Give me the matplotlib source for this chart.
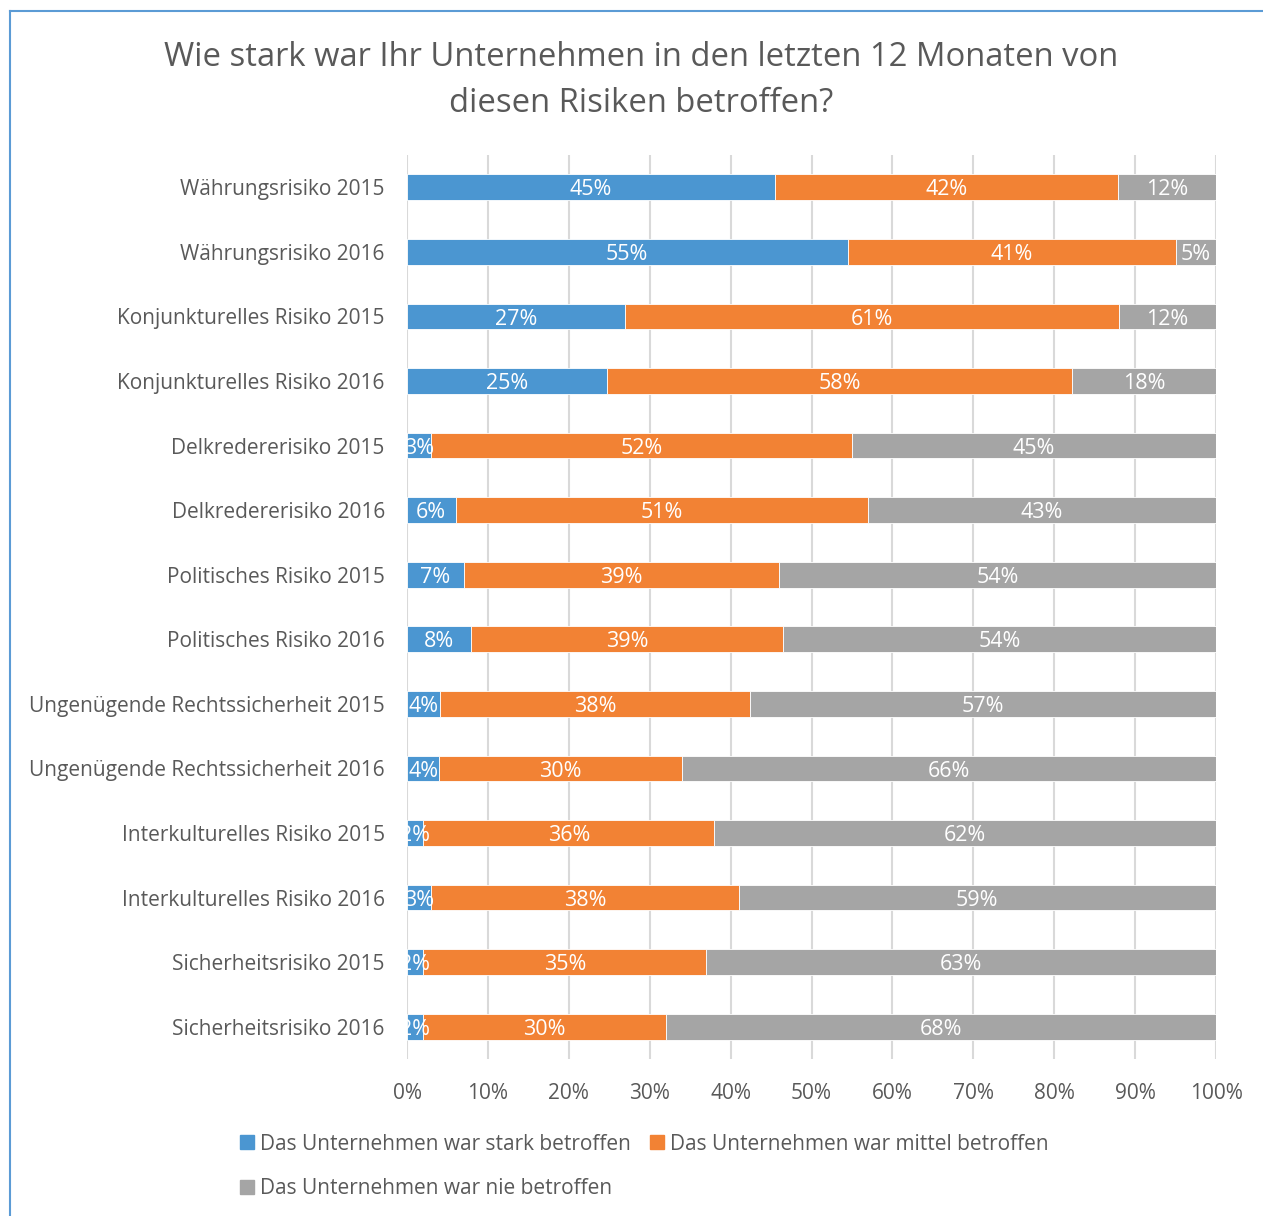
import matplotlib
matplotlib.use("Agg")
import matplotlib.pyplot as plt
from matplotlib.patches import Rectangle
from matplotlib.lines import Line2D
import numpy as np

plt.rcParams['font.family'] = ['Open Sans', 'DejaVu Sans']

categories = [
    "Währungsrisiko 2015", "Währungsrisiko 2016",
    "Konjunkturelles Risiko 2015", "Konjunkturelles Risiko 2016",
    "Delkredererisiko 2015", "Delkredererisiko 2016",
    "Politisches Risiko 2015", "Politisches Risiko 2016",
    "Ungenügende Rechtssicherheit 2015", "Ungenügende Rechtssicherheit 2016",
    "Interkulturelles Risiko 2015", "Interkulturelles Risiko 2016",
    "Sicherheitsrisiko 2015", "Sicherheitsrisiko 2016",
]
stark = [45, 55, 27, 25, 3, 6, 7, 8, 4, 4, 2, 3, 2, 2]
mittel = [42, 41, 61, 58, 52, 51, 39, 39, 38, 30, 36, 38, 35, 30]
nie = [12, 5, 12, 18, 45, 43, 54, 54, 57, 66, 62, 59, 63, 68]
series_names = ["Das Unternehmen war stark betroffen",
                "Das Unternehmen war mittel betroffen",
                "Das Unternehmen war nie betroffen"]
xticks = [0, 10, 20, 30, 40, 50, 60, 70, 80, 90, 100]
title = "Wie stark war Ihr Unternehmen in den letzten 12 Monaten von\ndiesen Risiken betroffen?"

colors = ["#4B96D1", "#F28234", "#A5A5A5"]
txt = "#595959"

W, H = 1263, 1216
fig = plt.figure(figsize=(W/100, H/100), dpi=100)
ax = fig.add_axes([407/W, 1-1059/H, (1216-407)/W, (1059-155)/H])

data = np.array([stark, mittel, nie], dtype=float)
totals = data.sum(axis=0)
norm = data / totals * 100
y = np.arange(len(categories))
left = np.zeros(len(categories))
for i in range(3):
    ax.barh(y, norm[i], left=left, height=0.4, color=colors[i],
            edgecolor="white", linewidth=0.6, zorder=3)
    for j in range(len(categories)):
        cx = left[j] + norm[i][j] / 2
        ax.text(cx, y[j] + 0.04, f"{int(data[i][j])}%", ha="center", va="center",
                color="white", fontsize=15.5, zorder=4, clip_on=True)
    left = left + norm[i]

ax.set_xlim(0, 100)
ax.set_ylim(len(categories) - 0.5, -0.5)
ax.set_xticks(xticks)
ax.set_xticklabels([f"{v}%" for v in xticks])
ax.set_yticks(y)
ax.set_yticklabels(categories)
ax.tick_params(axis="x", length=0, pad=17, labelsize=15, labelcolor=txt)
ax.tick_params(axis="y", length=0, pad=16, labelsize=15, labelcolor=txt)
ax.grid(axis="x", color="#D9D9D9", linewidth=1.5, zorder=0)
for s in ax.spines.values():
    s.set_visible(False)

fig.text(641/W, 1-81/H, title, ha="center", va="center", fontsize=23.6,
         color=txt, linespacing=1.52)

# legend
legend_items = [(240, 1142), (650, 1142), (240, 1187)]
for (lx, ly), c, name in zip(legend_items, colors, series_names):
    fig.patches.append(Rectangle((lx/W, 1-(ly+7)/H), 14/W, 14/H,
                                 transform=fig.transFigure, color=c))
    fig.text((lx+20)/W, 1-(ly+2)/H, name, ha="left", va="center",
             fontsize=15, color=txt)

# chart border
fig.lines.append(Line2D([10/W, 10/W], [0, 1-11/H], transform=fig.transFigure,
                        color="#5B9BD5", linewidth=1.5))
fig.lines.append(Line2D([10/W, 1], [1-11/H, 1-11/H], transform=fig.transFigure,
                        color="#5B9BD5", linewidth=1.5))

fig.savefig("out.png", dpi=100)
